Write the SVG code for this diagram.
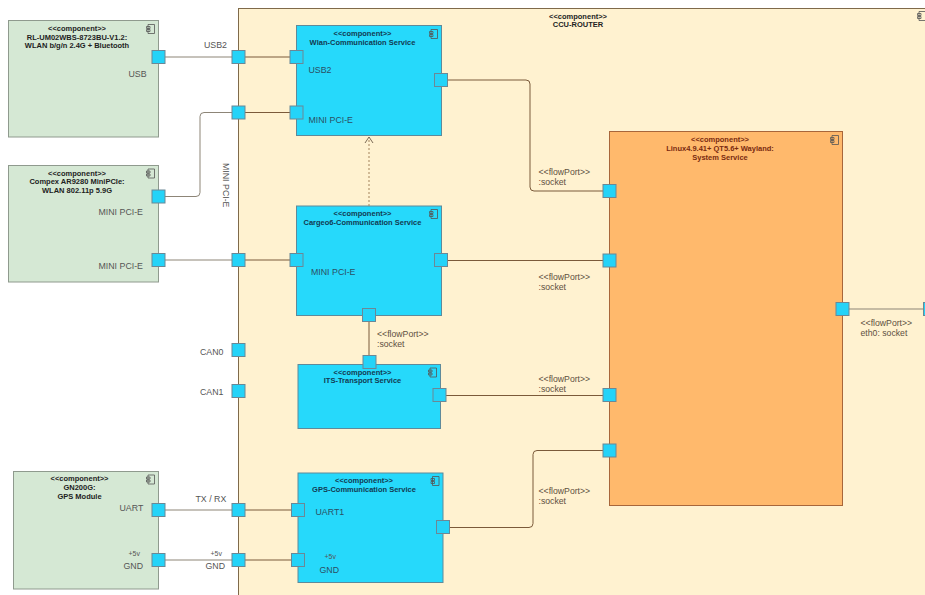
<svg xmlns="http://www.w3.org/2000/svg" width="925" height="595" viewBox="0 0 925 595">
<defs>
<style>
text{font-family:"Liberation Sans",Arial,sans-serif}
.t{font-size:7.5px;font-weight:bold;text-anchor:middle;fill:#222}
.tb{font-size:7.5px;font-weight:bold;text-anchor:middle;fill:#123a52}
.to{font-size:7.5px;font-weight:bold;text-anchor:middle;fill:#7a2a10}
.l{font-size:8.800px;fill:#555}
.lb{font-size:8.800px;fill:#2b4f63}
.f{font-size:8.700px;fill:#5e5040}
.s{font-size:7px;fill:#555}
.g{fill:#d5e8d4;stroke:#8f9a8e;stroke-width:1}
.b{fill:#26d9fb;stroke:#5f8a9a;stroke-width:1}
.o{fill:#ffb96c;stroke:#a8663a;stroke-width:1}
.p{fill:#24d3f8;stroke:#6b8896;stroke-width:1}
.c{fill:none;stroke:#8d8577;stroke-width:1}
.d{fill:none;stroke:#7b5a3a;stroke-width:1}
.i{fill:none;stroke:#555;stroke-width:.8}
</style>
<g id="ico"><path class="i" d="M-3-4.500H3.500V4.500H-3ZM-4.500-2.500H-1V-.5H-4.500ZM-4.500.5H-1V2.500H-4.500Z"/></g>
<rect id="pt" class="p" x="-6.500" y="-6.500" width="13" height="13"/>
</defs>

<g id="ccu-router">
<rect x="238.500" y="8.500" width="720" height="620" fill="#fff2d0" stroke="#7f6a4a"/>
<text class="t" x="578" y="18.500">&lt;&lt;component&gt;&gt;</text>
<text class="t" x="578" y="27">CCU-ROUTER</text>
<use href="#ico" x="922" y="16"/>
</g>

<g id="rl-um02wbs">
<rect class="g" x="8.500" y="20.500" width="150" height="116.500"/>
<text class="t" x="77" y="30.500">&lt;&lt;component&gt;&gt;</text>
<text class="t" x="77" y="39.500">RL-UM02WBS-8723BU-V1.2:</text>
<text class="t" x="77" y="48">WLAN b/g/n 2.4G + Bluetooth</text>
<use href="#ico" x="151" y="29"/>
<text class="l" x="128.500" y="77">USB</text>
</g>
<g id="compex">
<rect class="g" x="8.500" y="165.500" width="150" height="116.500"/>
<text class="t" x="77" y="175.500">&lt;&lt;component&gt;&gt;</text>
<text class="t" x="77" y="184">Compex AR9280 MiniPCIe:</text>
<text class="t" x="77" y="193">WLAN 802.11p 5.9G</text>
<use href="#ico" x="151" y="173.500"/>
<text class="l" x="98.500" y="215">MINI PCI-E</text>
<text class="l" x="98.500" y="269">MINI PCI-E</text>
</g>
<g id="gn200g">
<rect class="g" x="13.500" y="471.500" width="145" height="117.500"/>
<text class="t" x="79.500" y="481">&lt;&lt;component&gt;&gt;</text>
<text class="t" x="79.500" y="490">GN200G:</text>
<text class="t" x="79.500" y="499">GPS Module</text>
<use href="#ico" x="151" y="479.500"/>
<text class="l" x="119.500" y="511">UART</text>
<text class="s" x="128.500" y="555.500">+5v</text>
<text class="l" x="123.500" y="569">GND</text>
</g>

<g id="wlan-service">
<rect class="b" x="296.500" y="25.500" width="145" height="110"/>
<text class="tb" x="362.500" y="36">&lt;&lt;component&gt;&gt;</text>
<text class="tb" x="362.500" y="44.500">Wlan-Communication Service</text>
<use href="#ico" x="434" y="34"/>
<text class="lb" x="308.500" y="72.500">USB2</text>
<text class="lb" x="308.500" y="122.500">MINI PCI-E</text>
</g>
<g id="cargeo-service">
<rect class="b" x="296.500" y="206" width="145" height="109.500"/>
<text class="tb" x="362.500" y="216">&lt;&lt;component&gt;&gt;</text>
<text class="tb" x="362.500" y="225">Cargeo6-Communication Service</text>
<use href="#ico" x="434" y="214"/>
<text class="lb" x="311" y="275">MINI PCI-E</text>
</g>
<g id="its-service">
<rect class="b" x="298" y="364.500" width="142.500" height="64"/>
<text class="tb" x="362.500" y="374.500">&lt;&lt;component&gt;&gt;</text>
<text class="tb" x="362.500" y="383">ITS-Transport Service</text>
<use href="#ico" x="433" y="372.500"/>
</g>
<g id="gps-service">
<rect class="b" x="298" y="473" width="145" height="109.500"/>
<text class="tb" x="364" y="483">&lt;&lt;component&gt;&gt;</text>
<text class="tb" x="364" y="492">GPS-Communication Service</text>
<use href="#ico" x="435.500" y="481"/>
<text class="lb" x="315.500" y="515">UART1</text>
<text class="s" x="324.500" y="559">+5v</text>
<text class="lb" x="319.500" y="573">GND</text>
</g>
<g id="linux-service">
<rect class="o" x="609.500" y="131.500" width="233" height="374"/>
<text class="to" x="720" y="142">&lt;&lt;component&gt;&gt;</text>
<text class="to" x="720" y="150.500">Linux4.9.41+ QT5.6+ Wayland:</text>
<text class="to" x="720" y="159.500">System Service</text>
<use href="#ico" x="835" y="140"/>
</g>

<g id="connectors">
<path class="c" d="M158 57H238.500"/>
<path class="d" d="M238.500 57H296.500"/>
<path class="c" d="M158 196.500H196Q200 196.500 200 192.500V116.500Q200 112.500 204 112.500H238.500"/>
<path class="d" d="M238.500 112.500H296.500"/>
<path class="c" d="M158 260H238.500"/>
<path class="d" d="M238.500 260H296.500"/>
<path class="c" d="M158 510H238.500" stroke-width="1.500"/>
<path class="d" d="M238.500 510H298" stroke-width="1.500"/>
<path class="c" d="M158 560H238.500" stroke-width="1.500"/>
<path class="d" d="M238.500 560H298" stroke-width="1.500"/>
<path class="d" d="M441 80H526Q530 80 530 84V187Q530 191 534 191H609.500"/>
<path class="d" d="M441 260.500H609.500"/>
<path class="d" d="M369 315V362" stroke-width="1.500"/>
<path class="d" d="M439.500 395.500H609.500"/>
<path class="d" d="M443 527.500H529Q533 527.500 533 523.500V454.500Q533 450.500 537 450.500H609.500"/>
<path class="c" d="M842.500 309H925" stroke-width="1.500"/>
<path d="M369 206V137" fill="none" stroke="#a3835c" stroke-dasharray="2 2"/>
<path d="M365 143L369 137L373 143" fill="none" stroke="#7b6a55"/>
</g>

<g id="ports">
<use href="#pt" x="158.500" y="57"/><use href="#pt" x="238.500" y="57"/><use href="#pt" x="296.500" y="57"/><use href="#pt" x="441" y="80"/>
<use href="#pt" x="238.500" y="112.500"/><use href="#pt" x="296.500" y="112.500"/>
<use href="#pt" x="158.500" y="196.500"/><use href="#pt" x="158.500" y="260"/><use href="#pt" x="238.500" y="260"/><use href="#pt" x="296.500" y="260"/><use href="#pt" x="441" y="260"/>
<use href="#pt" x="369" y="315"/><use href="#pt" x="369.500" y="362"/>
<use href="#pt" x="238.500" y="350"/><use href="#pt" x="238.500" y="391"/><use href="#pt" x="439.500" y="395"/>
<use href="#pt" x="158.500" y="510"/><use href="#pt" x="238.500" y="510"/><use href="#pt" x="298" y="510"/>
<use href="#pt" x="158.500" y="560"/><use href="#pt" x="238.500" y="560"/><use href="#pt" x="298" y="560"/>
<use href="#pt" x="443" y="527"/>
<use href="#pt" x="609.500" y="191"/><use href="#pt" x="609.500" y="260.500"/><use href="#pt" x="609.500" y="395"/><use href="#pt" x="609.500" y="450.500"/>
<use href="#pt" x="842.500" y="309"/><use href="#pt" x="930" y="309"/>
</g>

<g id="labels">
<text class="l" x="204" y="48">USB2</text>
<text class="l" transform="translate(222.500 163) rotate(90)">MINI PCI-E</text>
<text class="l" x="200" y="355">CAN0</text>
<text class="l" x="200" y="394.500">CAN1</text>
<text class="l" x="195.500" y="502">TX / RX</text>
<text class="s" x="210.500" y="555.500">+5v</text>
<text class="l" x="205.500" y="569">GND</text>
<text class="f" x="538.500" y="175">&lt;&lt;flowPort&gt;&gt;</text>
<text class="f" x="538.500" y="185">:socket</text>
<text class="f" x="538.500" y="280">&lt;&lt;flowPort&gt;&gt;</text>
<text class="f" x="538.500" y="290">:socket</text>
<text class="f" x="377" y="336.500">&lt;&lt;flowPort&gt;&gt;</text>
<text class="f" x="377" y="346.500">:socket</text>
<text class="f" x="538.500" y="381.500">&lt;&lt;flowPort&gt;&gt;</text>
<text class="f" x="538.500" y="391.500">:socket</text>
<text class="f" x="538.500" y="493.500">&lt;&lt;flowPort&gt;&gt;</text>
<text class="f" x="538.500" y="503.500">:socket</text>
<text class="f" x="860.500" y="325.500">&lt;&lt;flowPort&gt;&gt;</text>
<text class="f" x="860.500" y="335.500">eth0: socket</text>
</g>
</svg>
